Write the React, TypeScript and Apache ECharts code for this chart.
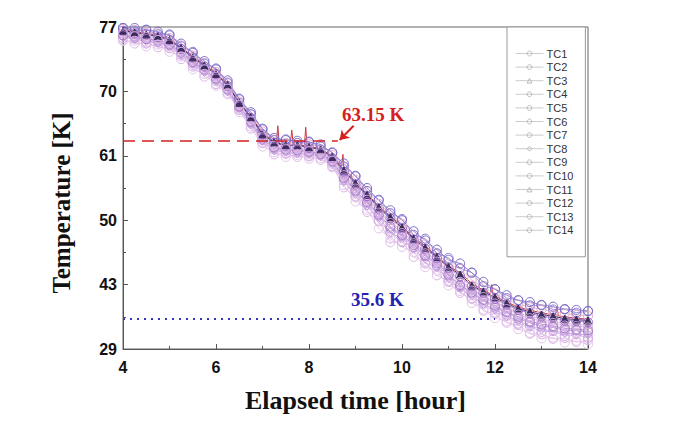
import React, { useEffect, useRef } from "react";
import * as echarts from "echarts";

const HOURS = [4, 4.25, 4.5, 4.75, 5, 5.25, 5.5, 5.75, 6, 6.25, 6.5, 6.75, 7, 7.25, 7.5, 7.75, 8, 8.25, 8.5, 8.75, 9, 9.25, 9.5, 9.75, 10, 10.25, 10.5, 10.75, 11, 11.25, 11.5, 11.75, 12, 12.25, 12.5, 12.75, 13, 13.25, 13.5, 13.75, 14];

const Y_TICK_VALUES = [29, 43, 50, 61, 70, 77];
const X_TICKS = [4, 6, 8, 10, 12, 14];

const TC1 = [75.8, 75.9, 75.2, 75.4, 74.7, 74.0, 72.7, 72.3, 70.8, 70.1, 67.4, 65.5, 62.8, 61.9, 61.3, 61.4, 60.9, 61.1, 59.2, 56.8, 54.0, 52.6, 49.9, 48.7, 47.6, 47.1, 45.3, 45.0, 43.3, 42.4, 40.0, 38.8, 36.9, 36.2, 34.5, 33.9, 32.7, 32.9, 31.8, 32.2, 31.4];
const TC2 = [76.1, 75.8, 75.7, 75.4, 75.0, 74.2, 73.1, 72.3, 71.3, 70.2, 67.8, 65.7, 63.2, 62.1, 61.7, 61.7, 61.4, 61.2, 59.9, 57.1, 54.9, 52.9, 50.8, 49.1, 48.3, 47.1, 46.1, 45.1, 44.0, 42.7, 41.0, 39.5, 38.0, 36.9, 35.6, 34.7, 34.0, 33.7, 33.1, 33.0, 32.7];
const TC3 = [76.4, 76.2, 76.0, 75.8, 75.4, 74.5, 73.5, 72.6, 71.7, 70.5, 68.2, 66.1, 63.8, 62.5, 62.2, 62.1, 61.9, 61.6, 60.5, 57.9, 55.7, 53.7, 51.6, 49.9, 48.8, 47.6, 46.6, 45.6, 44.5, 43.5, 42.0, 40.6, 39.3, 38.0, 36.9, 36.0, 35.5, 35.0, 34.6, 34.3, 34.2];
const TC4 = [76.7, 76.5, 76.3, 76.1, 75.7, 74.8, 73.8, 72.9, 72.0, 70.8, 68.5, 66.5, 64.2, 63.0, 62.6, 62.6, 62.3, 62.0, 60.9, 58.7, 56.5, 54.5, 52.4, 50.7, 49.4, 48.1, 47.2, 46.1, 45.0, 44.3, 43.1, 41.8, 40.5, 39.2, 38.1, 37.4, 36.9, 36.4, 36.0, 35.7, 35.5];
const TC4_SPIKES: [number, number][] = [[7.3, 62.9], [7.33, 65.2], [7.36, 62.6], [7.6, 62.7], [7.63, 64.6], [7.66, 62.6], [7.9, 62.4], [7.93, 65.0], [7.96, 62.3], [8.7, 59.2], [8.73, 61.2], [8.76, 58.8], [11.9, 41.0], [11.93, 43.0], [11.96, 40.8], [13.3, 36.3], [13.33, 38.2], [13.36, 36.2]];
const TC5 = [75.6, 75.2, 75.3, 74.8, 74.7, 73.5, 72.9, 71.6, 71.1, 69.6, 67.6, 64.8, 62.8, 61.2, 61.3, 60.8, 61.0, 60.3, 59.6, 55.6, 54.0, 51.4, 49.9, 47.6, 47.7, 46.0, 45.5, 44.0, 43.4, 41.2, 39.9, 37.3, 36.6, 34.7, 34.2, 32.3, 32.2, 31.2, 31.4, 30.5, 30.9];
const TC6 = [76.6, 76.3, 76.2, 75.9, 75.6, 74.6, 73.7, 72.7, 71.9, 70.6, 68.4, 66.3, 64.0, 62.8, 62.4, 62.4, 62.1, 61.9, 60.6, 58.3, 56.1, 54.1, 52.0, 50.3, 49.1, 47.9, 46.9, 45.9, 44.8, 43.9, 42.6, 41.2, 39.9, 38.6, 37.5, 36.8, 36.1, 35.8, 35.2, 35.1, 34.8];
const TC7 = [76.8, 76.7, 76.4, 76.3, 75.8, 75.0, 73.9, 73.1, 72.1, 71.0, 68.6, 66.8, 64.4, 63.2, 62.8, 62.8, 62.6, 62.3, 61.1, 59.1, 56.9, 54.9, 52.8, 51.1, 49.6, 48.4, 47.4, 46.4, 45.3, 44.7, 43.5, 42.4, 41.1, 39.8, 38.7, 38.1, 37.6, 37.1, 36.7, 36.4, 36.2];
const TC8 = [75.9, 75.7, 75.5, 75.3, 74.9, 74.0, 73.0, 72.1, 71.2, 70.0, 67.7, 65.4, 63.1, 61.8, 61.6, 61.4, 61.3, 60.9, 59.8, 56.7, 54.5, 52.5, 50.4, 48.7, 48.0, 46.9, 45.8, 44.9, 43.7, 42.3, 40.6, 38.8, 37.5, 36.2, 35.1, 34.0, 33.3, 32.9, 32.5, 32.2, 32.1];
const TC9 = [76.9, 76.6, 76.7, 76.2, 76.2, 74.9, 74.3, 73.0, 72.5, 70.9, 69.0, 66.8, 64.8, 63.2, 63.3, 62.8, 63.0, 62.3, 61.5, 59.2, 57.6, 55.0, 53.5, 51.2, 50.2, 48.4, 48.0, 46.4, 45.9, 44.8, 44.3, 42.7, 42.0, 40.1, 39.6, 38.5, 38.5, 37.6, 37.6, 36.9, 37.2];
const TC10 = [76.9, 76.9, 76.7, 76.5, 76.1, 75.2, 74.2, 73.3, 72.4, 71.2, 68.9, 67.1, 64.7, 63.5, 63.2, 63.1, 62.9, 62.6, 61.4, 59.7, 57.5, 55.5, 53.4, 51.7, 50.0, 48.8, 47.8, 46.8, 45.7, 45.3, 44.3, 43.3, 42.0, 40.7, 39.6, 39.2, 38.6, 38.2, 37.7, 37.5, 37.3];
const TC11 = [76.6, 76.4, 76.2, 76.0, 75.6, 74.7, 73.7, 72.8, 71.9, 70.7, 68.4, 66.4, 64.0, 62.9, 62.5, 62.5, 62.2, 61.9, 60.8, 58.5, 56.3, 54.3, 52.2, 50.5, 49.2, 48.0, 47.0, 46.0, 44.9, 44.1, 42.8, 41.5, 40.2, 38.9, 37.8, 37.1, 36.5, 36.1, 35.6, 35.4, 35.2];
const TC12 = [75.5, 75.5, 74.9, 75.1, 74.3, 73.8, 72.4, 71.9, 70.6, 69.8, 67.1, 65.1, 62.3, 61.5, 60.8, 61.1, 60.5, 60.6, 59.0, 56.0, 53.2, 51.8, 49.1, 48.0, 47.1, 46.5, 44.9, 44.5, 42.8, 41.6, 39.0, 37.6, 35.7, 35.0, 33.3, 32.5, 31.3, 31.5, 30.4, 30.8, 30.0];
const TC13 = [76.1, 76.0, 75.7, 75.6, 75.1, 74.3, 73.2, 72.4, 71.4, 70.3, 67.9, 65.8, 63.4, 62.2, 61.9, 61.8, 61.6, 61.3, 60.1, 57.3, 55.1, 53.1, 51.0, 49.3, 48.4, 47.3, 46.2, 45.3, 44.1, 42.9, 41.3, 39.7, 38.4, 37.1, 36.0, 35.0, 34.4, 34.0, 33.5, 33.3, 33.1];
const TC14 = [76.3, 76.0, 75.9, 75.6, 75.3, 74.3, 73.4, 72.4, 71.6, 70.3, 68.1, 65.9, 63.6, 62.4, 62.0, 62.0, 61.7, 61.5, 60.2, 57.7, 55.4, 53.5, 51.3, 49.7, 48.6, 47.5, 46.4, 45.5, 44.3, 43.3, 41.7, 40.3, 38.9, 37.7, 36.5, 35.7, 35.0, 34.7, 34.1, 34.0, 33.7];

const SERIES_NAMES = ["TC1", "TC2", "TC3", "TC4", "TC5", "TC6", "TC7", "TC8", "TC9", "TC10", "TC11", "TC12", "TC13", "TC14"];
const SERIES_VALUES = [TC1, TC2, TC3, TC4, TC5, TC6, TC7, TC8, TC9, TC10, TC11, TC12, TC13, TC14];
const SERIES_COLORS = ["#c9a6e2", "#b48ad8", "#d8a8d4", "#d03a3a", "#dcb4e6", "#9a66c8", "#e4aac4", "#c2a0e0", "#8c78d4", "#7a6cc8", "#3a2c5c", "#e6c2ea", "#a878c4", "#d0b0e4"];
const SERIES_SYMBOLS = ["circle", "circle", "triangle", "none", "circle", "circle", "circle", "diamond", "circle", "circle", "triangle", "circle", "circle", "circle"];

const FREEZE_K = 63.15;
const FINAL_K = 35.6;

// piecewise mapping of Kelvin onto the evenly spaced (but unevenly labelled) axis
function toPos(k: number): number {
  for (let i = 0; i < Y_TICK_VALUES.length - 1; i++) {
    const a = Y_TICK_VALUES[i];
    const b = Y_TICK_VALUES[i + 1];
    if (k <= b || i === Y_TICK_VALUES.length - 2) {
      return i + (k - a) / (b - a);
    }
  }
  return 0;
}

export default function App() {
  const ref = useRef<HTMLDivElement>(null);
  useEffect(() => {
    if (!ref.current) return;
    const chart = echarts.init(ref.current, undefined, { renderer: "svg" });

    const series: any[] = SERIES_NAMES.map((name, si) => {
      let pts: [number, number][] = HOURS.map((h, i) => [h, SERIES_VALUES[si][i]]);
      if (name === "TC4") {
        pts = pts.concat(TC4_SPIKES).sort((a, b) => a[0] - b[0]);
      }
      const color = SERIES_COLORS[si];
      const sym = SERIES_SYMBOLS[si];
      return {
        name,
        type: "line",
        data: pts.map((p) => [p[0], toPos(p[1])]),
        symbol: sym,
        showSymbol: sym !== "none",
        symbolSize: sym === "triangle" ? 7 : 9,
        lineStyle: { color, width: name === "TC4" || name === "TC11" ? 1 : 0.8 },
        itemStyle: {
          color: name === "TC11" ? color : "rgba(255,255,255,0)",
          borderColor: color,
          borderWidth: 1,
        },
        emphasis: { disabled: true },
        z: 2,
      };
    });

    series[13].markLine = {
      silent: true,
      symbol: "none",
      animation: false,
      label: { show: false },
      data: [
        [
          { coord: [4, toPos(FREEZE_K)], lineStyle: { color: "#d42020", type: [12, 7], width: 1.6 } },
          { coord: [8.62, toPos(FREEZE_K)] },
        ],
        [
          { coord: [4, toPos(FINAL_K)], lineStyle: { color: "#3535c0", type: [2, 5], width: 2 } },
          { coord: [12, toPos(FINAL_K)] },
        ],
        [
          { coord: [8.96, toPos(65.2)], symbol: "none", lineStyle: { color: "#d42020", type: "solid", width: 2 } },
          { coord: [8.66, toPos(63.2)], symbol: "arrow", symbolSize: 9 },
        ],
      ],
    };

    chart.setOption({
      animation: false,
      backgroundColor: "#ffffff",
      grid: {
        left: 123,
        right: 94,
        top: 27,
        bottom: 78,
        show: true,
        borderColor: "#666",
        borderWidth: 1,
        backgroundColor: "transparent",
      },
      legend: {
        orient: "vertical",
        left: 507,
        top: 27,
        width: 60,
        padding: [21, 12, 21, 8],
        backgroundColor: "#fff",
        borderColor: "#999",
        borderWidth: 1,
        itemWidth: 28,
        itemHeight: 6,
        itemGap: 2.6,
        data: SERIES_NAMES,
        textStyle: { fontFamily: "Liberation Sans", fontSize: 11, color: "#333", padding: [0, 0, 0, -2] },
        itemStyle: { color: "rgba(255,255,255,0)", borderColor: "#bbb", borderWidth: 1 },
        lineStyle: { color: "#ccc", width: 1 },
        selectedMode: false,
        z: 10,
      },
      xAxis: {
        type: "value",
        min: 4,
        max: 14,
        interval: 2,
        name: "Elapsed time [hour]",
        nameLocation: "middle",
        nameGap: 38,
        nameTextStyle: { fontFamily: "Liberation Serif", fontWeight: "bold", fontSize: 26, color: "#111" },
        axisLine: { show: true, lineStyle: { color: "#555", width: 1 } },
        axisTick: { show: true, inside: true, length: 5, lineStyle: { color: "#555" } },
        minorTick: { show: true, splitNumber: 2, length: 3, lineStyle: { color: "#555" } },
        splitLine: { show: false },
        axisLabel: {
          margin: 10,
          fontFamily: "Liberation Sans",
          fontWeight: "bold",
          fontSize: 16,
          color: "#111",
          formatter: (v: number) => (X_TICKS.includes(v) ? String(v) : ""),
        },
      },
      yAxis: {
        type: "value",
        min: 0,
        max: 5,
        interval: 1,
        axisLine: { show: true, lineStyle: { color: "#555", width: 1 } },
        axisTick: { show: true, inside: true, length: 5, lineStyle: { color: "#555" } },
        minorTick: { show: true, splitNumber: 2, length: 3, lineStyle: { color: "#555" } },
        splitLine: { show: false },
        axisLabel: {
          margin: 6,
          fontFamily: "Liberation Sans",
          fontWeight: "bold",
          fontSize: 16,
          color: "#111",
          formatter: (v: number) => String(Y_TICK_VALUES[Math.round(v)] ?? ""),
        },
      },
      series,
      graphic: [
        {
          type: "text",
          x: 61,
          y: 203,
          rotation: Math.PI / 2,
          style: {
            text: "Temperature [K]",
            fill: "#111",
            font: "bold 25px 'Liberation Serif'",
            align: "center",
            verticalAlign: "middle",
          },
          z: 20,
        },
        {
          type: "text",
          left: 342,
          top: 105,
          style: { text: "63.15 K", fill: "#d42020", font: "bold 19px 'Liberation Serif'" },
          z: 20,
        },
        {
          type: "text",
          left: 351,
          top: 290,
          style: { text: "35.6 K", fill: "#2323b0", font: "bold 19px 'Liberation Serif'" },
          z: 20,
        },
      ],
    });
    return () => chart.dispose();
  }, []);
  return <div ref={ref} style={{ position: "fixed", left: 0, top: 0, width: 682, height: 427 }} />;
}
